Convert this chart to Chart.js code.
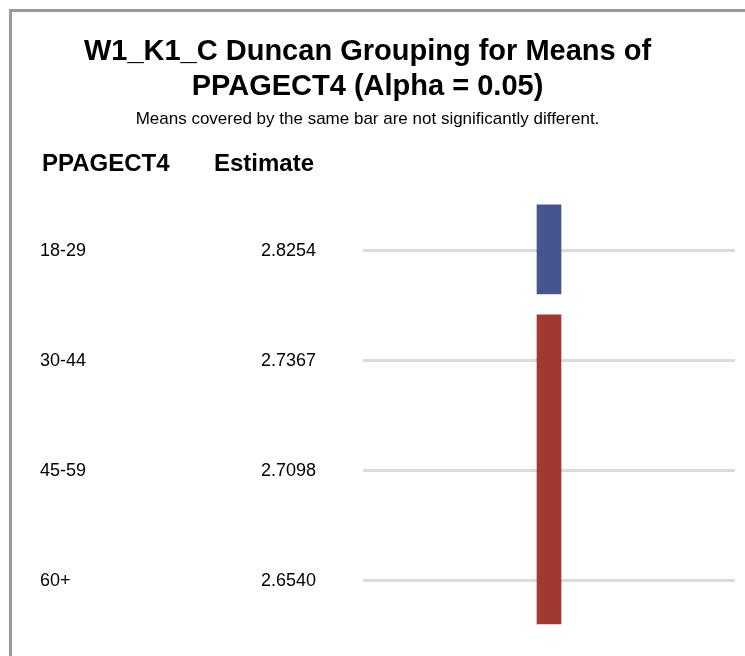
<!DOCTYPE html>
<html>
<head>
<meta charset="utf-8">
<script src="https://cdn.jsdelivr.net/npm/chart.js@4"></script>
<style>
  body { margin: 0; background: #fff; }
  #frame { position: absolute; left: 9px; top: 9px; width: 740px; height: 700px;
           border-left: 3px solid #9a9a9a; border-top: 3px solid #9a9a9a; }
  #wrap { position: absolute; left: 0; top: 0; width: 745px; height: 656px; }
</style>
</head>
<body>
<div id="frame"></div>
<div id="wrap"><canvas id="duncanChart" width="745" height="656"></canvas></div>
<script>
// Duncan grouping: age groups, their means, and which rows each bar covers
const ageGroups = ['18-29', '30-44', '45-59', '60+'];
const estimates = ['2.8254', '2.7367', '2.7098', '2.6540'];
const groupFirstRow = [0, 1];
const groupLastRow = [0, 3];
const groupColors = ['#455590', '#a2392e'];

const half = 0.4;
const bars = groupFirstRow.map((r, i) => ({ x: 0.5, y: [r - half - 0.01, groupLastRow[i] + half] }));

const font = '"Liberation Sans", Arial, sans-serif';

// row labels, estimates and column headers on the left side
const tableText = {
  id: 'tableText',
  afterDraw(chart) {
    const c = chart.ctx;
    const y = chart.scales.y;
    c.save();
    c.fillStyle = '#000';
    c.textBaseline = 'middle';
    c.textAlign = 'left';
    c.font = 'bold 24px ' + font;
    c.fillText('PPAGECT4', 42, 164);
    c.fillText('Estimate', 214, 164);
    c.font = '18px ' + font;
    ageGroups.forEach((g, i) => {
      const py = y.getPixelForValue(i);
      c.fillText(g, 40, py + 1);
      c.fillText(estimates[i], 261, py + 1);
    });
    c.restore();
  }
};

const ctx = document.getElementById('duncanChart').getContext('2d');

const duncanChart = new Chart(ctx, {
  type: 'bar',
  data: {
    datasets: [{
      data: bars,
      backgroundColor: groupColors,
      borderWidth: 0,
      barThickness: 24
    }]
  },
  options: {
    responsive: false,
    animation: false,
    devicePixelRatio: 1,
    layout: { padding: { top: 0, right: 10, bottom: 21, left: 0 } },
    plugins: {
      legend: { display: false },
      tooltip: { enabled: false },
      title: {
        display: true,
        text: ['W1_K1_C Duncan Grouping for Means of', 'PPAGECT4 (Alpha = 0.05)'],
        color: '#000',
        font: { family: font, size: 29, weight: 'bold', lineHeight: 1.2 },
        padding: { top: 35, bottom: 5 }
      },
      subtitle: {
        display: true,
        text: 'Means covered by the same bar are not significantly different.',
        color: '#000',
        font: { family: font, size: 17, lineHeight: 1.2 },
        padding: { top: 0, bottom: 65 }
      }
    },
    scales: {
      x: {
        type: 'linear',
        min: 0,
        max: 1,
        display: false
      },
      y: {
        type: 'linear',
        reverse: true,
        min: -0.5,
        max: 3.5,
        afterBuildTicks: (s) => { s.ticks = ageGroups.map((g, i) => ({ value: i })); },
        afterFit: (s) => { s.width = 363; },
        ticks: { display: false },
        border: { display: false },
        grid: { color: '#d9dcdc', lineWidth: 3, drawTicks: false }
      }
    }
  },
  plugins: [tableText]
});
</script>
</body>
</html>
